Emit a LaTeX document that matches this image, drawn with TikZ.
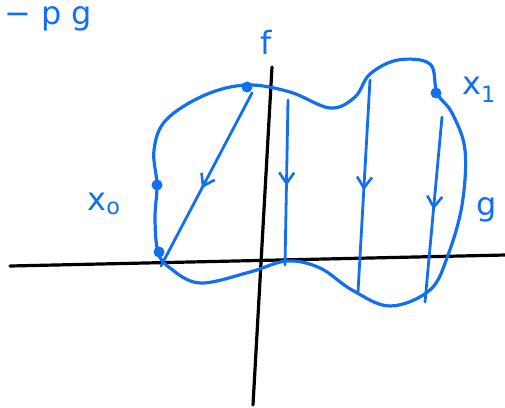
\documentclass[tikz,border=0pt]{standalone}
\usepackage{fontspec}
\setmainfont{DejaVu Sans}
\usetikzlibrary{arrows.meta,decorations.markings}
\definecolor{pen}{RGB}{18,112,240}
\tikzset{
  blob/.style={draw=pen,line width=3.2pt,line cap=round,line join=round},
  axis/.style={draw=black,line width=3.2pt,line cap=round},
  flow/.style={draw=pen,line width=2.8pt,line cap=round,
    postaction={decorate},
    decoration={markings,mark=at position #1 with {\arrow[pen,line width=2.6pt]{Straight Barb[length=11pt,width=15pt]}}}},
  dotpt/.style={circle,fill=pen,inner sep=0pt,minimum size=11pt},
  lbl/.style={text=pen,font=\fontsize{32}{32}\selectfont,inner sep=0pt}
}
\begin{document}
\begin{tikzpicture}[x=1pt,y=-1pt]
\useasboundingbox (0,0) rectangle (505,407);
% axes
\coordinate (hl) at (10,266);
\coordinate (hr) at (505,255);
\coordinate (vt) at (272,67);
\coordinate (vb) at (253,405);
\draw[axis] (hl) -- (hr);
\draw[axis] (vt) -- (vb);
% blob
\draw[blob] plot[smooth cycle,tension=0.6] coordinates {
(158,252) (155,218) (157,185) (154,150) (166,120) (205,95) (247,85) (290,92)
(330,108) (355,97) (370,74) (398,60) (430,64) (437,93) (452,113) (465,150)
(462,205) (448,255) (430,290) (390,306) (352,290) (320,268) (287,261)
(250,272) (200,283) (170,268)};
% points
\node[dotpt] (a) at (157,185) {};
\node[dotpt] (b) at (159,252) {};
\node[dotpt] (c) at (247,87) {};
\node[dotpt] (d) at (436,93) {};
% flow lines
\coordinate (s1) at (252,93);  \coordinate (e1) at (161,266);
\coordinate (s2) at (288,100); \coordinate (e2) at (285,265);
\coordinate (s3) at (370,80);  \coordinate (e3) at (358,292);
\coordinate (s4) at (442,117); \coordinate (e4) at (425,302);
\draw[flow=0.55] (s1) -- (e1);
\draw[flow=0.52] (s2) -- (e2);
\draw[flow=0.52] (s3) -- (e3);
\draw[flow=0.50] (s4) -- (e4);
% labels
\node[lbl] (f) at (266,42) {f};
\node[lbl] (g) at (487,210) {g};
\node[lbl] (x0) at (104,204) {x\textsubscript{o}};
\node[lbl] (x1) at (479,90) {x\textsubscript{1}};
\node[lbl,anchor=north west] (top) at (4,6) {− p g};
\end{tikzpicture}
\end{document}
